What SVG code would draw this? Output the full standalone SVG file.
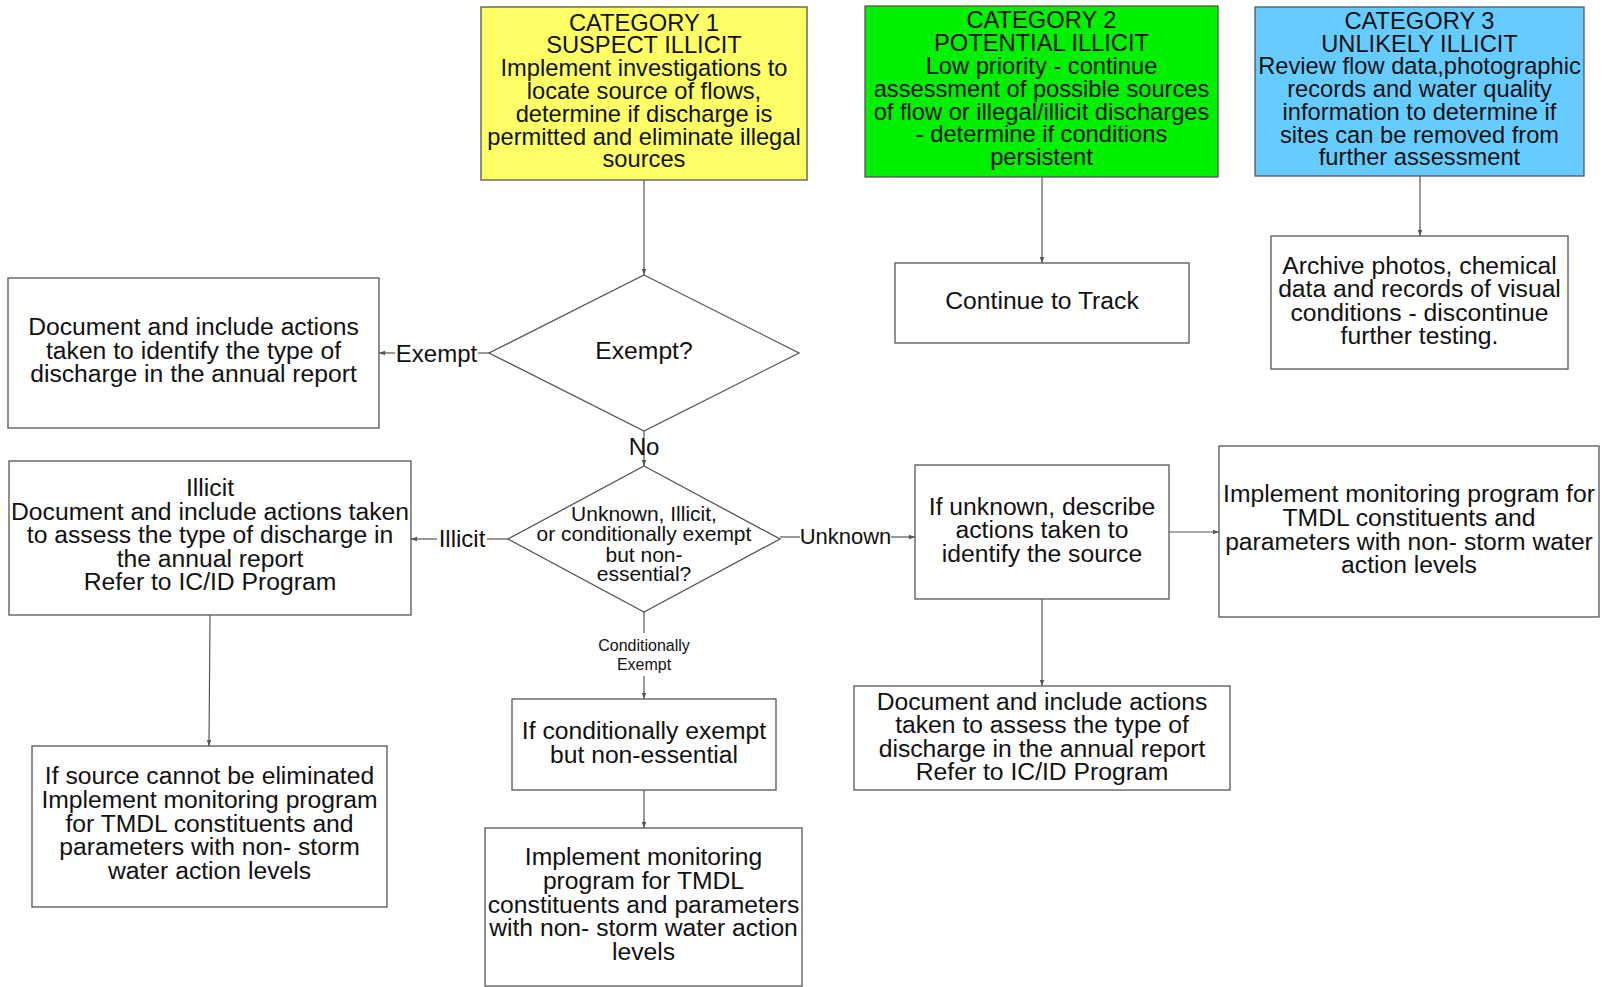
<svg xmlns="http://www.w3.org/2000/svg" width="1608" height="987" viewBox="0 0 1608 987">
<style>
text{font-family:"Liberation Sans",Arial,sans-serif;fill:#111;text-anchor:middle}
.cat{font-size:23.7px}
.b{font-size:24.7px}
.d2{font-size:21px}
.sm{font-size:16px}
.lb{font-size:24px}
.box{fill:#fff;stroke:#555;stroke-width:1.3}
.edge{stroke:#555;stroke-width:1.2;fill:none}
</style>
<defs>
<marker id="ah" viewBox="0 0 8 8" refX="8" refY="4" markerWidth="6" markerHeight="6" orient="auto" markerUnits="userSpaceOnUse">
<path d="M0,1 L8,4 L0,7 z" fill="#555"/>
</marker>
</defs>
<rect width="1608" height="987" fill="#fff"/>
<g id="connectors">
<line class="edge" x1="644" y1="180" x2="644" y2="275" marker-end="url(#ah)"/>
<line class="edge" x1="1042" y1="177" x2="1042" y2="263" marker-end="url(#ah)"/>
<line class="edge" x1="1420" y1="176" x2="1420" y2="236" marker-end="url(#ah)"/>
<line class="edge" x1="489" y1="353" x2="478" y2="353"/>
<line class="edge" x1="395" y1="353" x2="379" y2="353" marker-end="url(#ah)"/>
<line class="edge" x1="644" y1="431" x2="644" y2="466" marker-end="url(#ah)"/>
<line class="edge" x1="508" y1="539" x2="487" y2="539"/>
<line class="edge" x1="437" y1="539" x2="411" y2="539" marker-end="url(#ah)"/>
<line class="edge" x1="780" y1="537" x2="800" y2="537"/>
<line class="edge" x1="891" y1="537" x2="915" y2="537" marker-end="url(#ah)"/>
<line class="edge" x1="644" y1="612" x2="644" y2="633"/>
<line class="edge" x1="644" y1="676" x2="644" y2="699" marker-end="url(#ah)"/>
<line class="edge" x1="1169" y1="532" x2="1219" y2="532" marker-end="url(#ah)"/>
<line class="edge" x1="1042" y1="599" x2="1042" y2="686" marker-end="url(#ah)"/>
<line class="edge" x1="210" y1="615" x2="209" y2="746" marker-end="url(#ah)"/>
<line class="edge" x1="644" y1="790" x2="644" y2="828" marker-end="url(#ah)"/>
<text class="lb" x="436.5" y="362">Exempt</text>
<text class="lb" x="644" y="455">No</text>
<text class="lb" x="462" y="547">Illicit</text>
<text class="lb" x="845.5" y="544" style="font-size:22px">Unknown</text>
<text class="sm" x="644" y="650.5">Conditionally</text>
<text class="sm" x="644" y="670">Exempt</text>
</g>
<g id="cat1">
<rect x="481" y="7" width="326" height="173" fill="#FFFF66" stroke="#555" stroke-width="1.3"/>
<text class="cat" x="644" y="30.5">CATEGORY 1</text>
<text class="cat" x="644" y="53.3">SUSPECT ILLICIT</text>
<text class="cat" x="644" y="76.1">Implement investigations to</text>
<text class="cat" x="644" y="98.9">locate source of flows,</text>
<text class="cat" x="644" y="121.7">determine if discharge is</text>
<text class="cat" x="644" y="144.5">permitted and eliminate illegal</text>
<text class="cat" x="644" y="167.3">sources</text>
</g>
<g id="cat2">
<rect x="865" y="6" width="353" height="171" fill="#00F000" stroke="#555" stroke-width="1.3"/>
<text class="cat" x="1041.5" y="28.3">CATEGORY 2</text>
<text class="cat" x="1041.5" y="51.1">POTENTIAL ILLICIT</text>
<text class="cat" x="1041.5" y="73.9">Low priority - continue</text>
<text class="cat" x="1041.5" y="96.7">assessment of possible sources</text>
<text class="cat" x="1041.5" y="119.5">of flow or illegal/illicit discharges</text>
<text class="cat" x="1041.5" y="142.3">- determine if conditions</text>
<text class="cat" x="1041.5" y="165.1">persistent</text>
</g>
<g id="cat3">
<rect x="1255" y="7" width="329" height="169" fill="#66CCFF" stroke="#555" stroke-width="1.3"/>
<text class="cat" x="1419.5" y="29">CATEGORY 3</text>
<text class="cat" x="1419.5" y="51.7">UNLIKELY ILLICIT</text>
<text class="cat" x="1419.5" y="74.4">Review flow data,photographic</text>
<text class="cat" x="1419.5" y="97.1">records and water quality</text>
<text class="cat" x="1419.5" y="119.8">information to determine if</text>
<text class="cat" x="1419.5" y="142.5">sites can be removed from</text>
<text class="cat" x="1419.5" y="165.2">further assessment</text>
</g>
<g id="exempt-doc">
<rect class="box" x="8" y="278" width="371" height="150"/>
<text class="b" x="193.5" y="335">Document and include actions</text>
<text class="b" x="193.5" y="358.6">taken to identify the type of</text>
<text class="b" x="193.5" y="382.2">discharge in the annual report</text>
</g>
<g id="exempt-decision">
<polygon class="box" points="644,275 799,353 644,431 489,353"/>
<text class="b" x="644" y="358.7">Exempt?</text>
</g>
<g id="continue-track">
<rect class="box" x="895" y="263" width="294" height="80"/>
<text class="b" x="1042" y="308.5">Continue to Track</text>
</g>
<g id="archive">
<rect class="box" x="1271" y="236" width="297" height="133"/>
<text class="b" x="1419.5" y="273.6">Archive photos, chemical</text>
<text class="b" x="1419.5" y="297.2">data and records of visual</text>
<text class="b" x="1419.5" y="320.8">conditions - discontinue</text>
<text class="b" x="1419.5" y="344.4">further testing.</text>
</g>
<g id="illicit-doc">
<rect class="box" x="9" y="461" width="402" height="154"/>
<text class="b" x="210" y="496">Illicit</text>
<text class="b" x="210" y="519.6">Document and include actions taken</text>
<text class="b" x="210" y="543.2">to assess the type of discharge in</text>
<text class="b" x="210" y="566.8">the annual report</text>
<text class="b" x="210" y="590.4">Refer to IC/ID Program</text>
</g>
<g id="type-decision">
<polygon class="box" points="644,466 780,539 644,612 508,539"/>
<text class="d2" x="644" y="520.8">Unknown, Illicit,</text>
<text class="d2" x="644" y="541.3">or conditionally exempt</text>
<text class="d2" x="644" y="561.8">but non-</text>
<text class="d2" x="644" y="581.3">essential?</text>
</g>
<g id="unknown-describe">
<rect class="box" x="915" y="465" width="254" height="134"/>
<text class="b" x="1042" y="514.6">If unknown, describe</text>
<text class="b" x="1042" y="538.2">actions taken to</text>
<text class="b" x="1042" y="561.8">identify the source</text>
</g>
<g id="monitor-right">
<rect class="box" x="1219" y="446" width="380" height="171"/>
<text class="b" x="1409" y="502.3">Implement monitoring program for</text>
<text class="b" x="1409" y="525.9">TMDL constituents and</text>
<text class="b" x="1409" y="549.5">parameters with non- storm water</text>
<text class="b" x="1409" y="573.1">action levels</text>
</g>
<g id="doc-right">
<rect class="box" x="854" y="686" width="376" height="104"/>
<text class="b" x="1042" y="709.5">Document and include actions</text>
<text class="b" x="1042" y="733.1">taken to assess the type of</text>
<text class="b" x="1042" y="756.7">discharge in the annual report</text>
<text class="b" x="1042" y="780.3">Refer to IC/ID Program</text>
</g>
<g id="cond-exempt">
<rect class="box" x="512" y="699" width="264" height="91"/>
<text class="b" x="644" y="739.2">If conditionally exempt</text>
<text class="b" x="644" y="762.8">but non-essential</text>
</g>
<g id="monitor-center">
<rect class="box" x="485" y="828" width="317" height="158"/>
<text class="b" x="643.5" y="865.3">Implement monitoring</text>
<text class="b" x="643.5" y="888.9">program for TMDL</text>
<text class="b" x="643.5" y="912.5">constituents and parameters</text>
<text class="b" x="643.5" y="936.1">with non- storm water action</text>
<text class="b" x="643.5" y="959.7">levels</text>
</g>
<g id="source-eliminate">
<rect class="box" x="32" y="746" width="355" height="161"/>
<text class="b" x="209.5" y="784.3">If source cannot be eliminated</text>
<text class="b" x="209.5" y="807.9">Implement monitoring program</text>
<text class="b" x="209.5" y="831.5">for TMDL constituents and</text>
<text class="b" x="209.5" y="855.1">parameters with non- storm</text>
<text class="b" x="209.5" y="878.7">water action levels</text>
</g>
</svg>
